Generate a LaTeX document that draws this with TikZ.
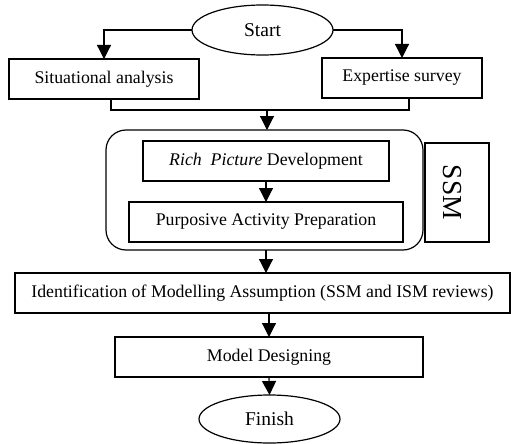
\documentclass[tikz,border=0pt]{standalone}
\usepackage{fontspec}
\setmainfont{Liberation Serif}
\usetikzlibrary{shapes.geometric,arrows.meta}
\begin{document}
\begin{tikzpicture}[x=1pt,y=-1pt,
  every node/.style={inner sep=0pt,outer sep=0pt},
  box/.style={draw,line width=1.2pt,rectangle,font=\fontsize{17.8}{21}\selectfont},
  term/.style={draw,line width=1.2pt,ellipse,minimum width=141pt,font=\fontsize{19.5}{23}\selectfont},
  group/.style={draw,line width=1.2pt,rounded corners=20pt},
  conn/.style={line width=1.2pt},
  arr/.style={line width=1.2pt,-{Triangle[length=14pt,width=14pt]}}]
\useasboundingbox (0,0) rectangle (511,444);
\node[term,minimum height=50pt] (start) at (262.5,30) {Start};
\node[box,minimum width=190pt,minimum height=40pt] (sit) at (104,79) {Situational analysis};
\node[box,minimum width=160pt,minimum height=40pt] (exp) at (402,78) {Expertise survey};
\node[group,minimum width=317pt,minimum height=120pt] (grp) at (264.5,190) {};
\node[box,minimum width=246pt,minimum height=40pt] (rich) at (266,161) {\textit{Rich\ \ Picture} Development};
\node[box,minimum width=274pt,minimum height=40pt] (purp) at (266,222) {Purposive Activity Preparation};
\node[box,minimum width=64pt,minimum height=99pt] (ssmbox) at (457,192.5) {};
\node[rotate=-90,font=\fontsize{27.5}{30}\selectfont] (ssm) at (452,192.5) {SSM};
\node[box,minimum width=495pt,minimum height=40pt] (ident) at (262.5,293) {Identification of Modelling Assumption (SSM and ISM reviews)};
\node[box,minimum width=308pt,minimum height=40pt] (model) at (269,357) {Model Designing};
\node[term,minimum height=48pt] (finish) at (269.5,419) {Finish};
\coordinate (m) at (267,110);
\coordinate (sl) at ([xshift=7pt]sit.south);
\coordinate (sr) at ([xshift=7pt]exp.south);
\draw[arr] (start.west) -| (sit.north);
\draw[arr] (start.east) -| (exp.north);
\draw[conn] (sl) |- (m) -| (sr);
\draw[arr] (m) -- (m |- grp.north);
\draw[arr] (rich.south) -- (purp.north);
\draw[arr] (purp.south |- grp.south) -- (purp.south |- ident.north);
\draw[arr] (model.north |- ident.south) -- (model.north);
\draw[arr] (model.south) -- (finish.north);
\end{tikzpicture}
\end{document}
